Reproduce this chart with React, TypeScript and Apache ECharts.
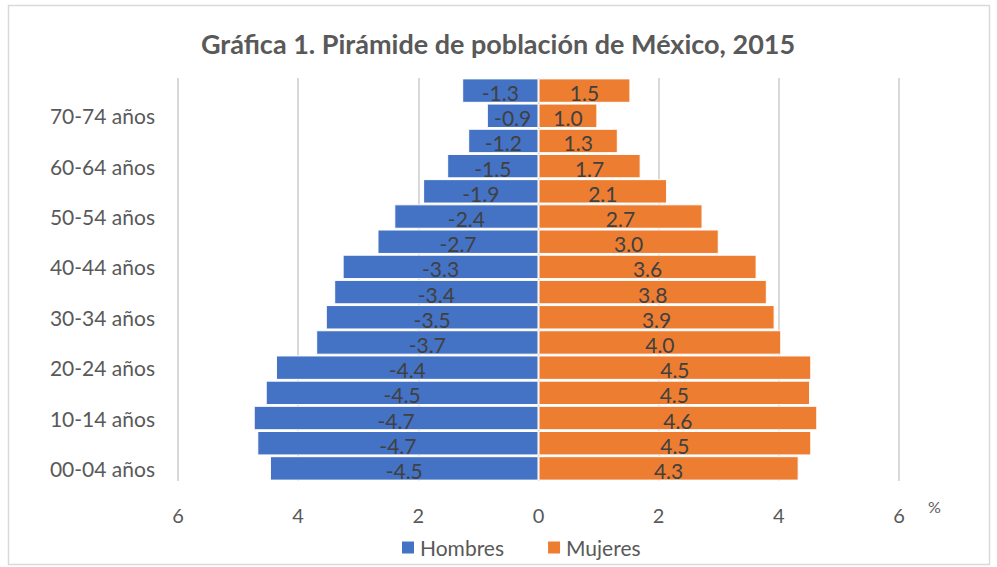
import React, { useEffect, useRef } from "react";
import * as echarts from "echarts";

const categories = [
  "00-04 años", "05-09 años", "10-14 años", "15-19 años", "20-24 años", "25-29 años",
  "30-34 años", "35-39 años", "40-44 años", "45-49 años", "50-54 años", "55-59 años",
  "60-64 años", "65-69 años", "70-74 años", "75 años y más",
];
const hombres = [-4.47, -4.68, -4.74, -4.54, -4.37, -3.7, -3.54, -3.4, -3.26, -2.68, -2.4, -1.92, -1.52, -1.17, -0.86, -1.27];
const mujeres = [4.33, 4.54, 4.64, 4.52, 4.54, 4.04, 3.93, 3.8, 3.63, 3.0, 2.73, 2.14, 1.7, 1.32, 0.98, 1.53];
const xTicks = [-6, -4, -2, 0, 2, 4, 6];

const FONT = "Lato, 'Open Sans', sans-serif";

export default function App() {
  const ref = useRef<HTMLDivElement>(null);
  useEffect(() => {
    const chart = echarts.init(ref.current!, null, { renderer: "svg" });
    const labelStyle = {
      show: true,
      position: "inside" as const,
      color: "#404040",
      fontSize: 21,
      fontFamily: FONT,
      offset: [0, 2],
      formatter: (p: any) => Number(p.value).toFixed(1),
    };
    chart.setOption({
      animation: false,
      backgroundColor: "#fff",
      title: {
        text: "Gráfica 1. Pirámide de población de México, 2015",
        left: 493,
        textAlign: "center",
        top: 25,
        textStyle: { color: "#595959", fontSize: 27, fontWeight: "bold", fontFamily: FONT },
      },
      legend: {
        data: ["Hombres", "Mujeres"],
        left: 395,
        top: 532,
        itemWidth: 14,
        itemHeight: 14,
        itemGap: 42,
        icon: "rect",
        textStyle: { color: "#595959", fontSize: 21, fontFamily: FONT },
      },
      grid: { left: 178, right: 98, top: 78, bottom: 86, containLabel: false },
      xAxis: {
        type: "value",
        min: xTicks[0],
        max: xTicks[xTicks.length - 1],
        interval: 2,
        axisLine: { show: false },
        axisTick: { show: false },
        splitLine: { show: true, lineStyle: { color: "#d9d9d9", width: 2 } },
        axisLabel: {
          color: "#595959",
          fontSize: 20,
          fontFamily: FONT,
          margin: 24,
          formatter: (v: number) => String(Math.abs(v)),
        },
      },
      yAxis: {
        type: "category",
        data: categories,
        axisLine: { show: false },
        axisTick: { show: false },
        axisLabel: { interval: 1, color: "#595959", fontSize: 21, fontFamily: FONT, margin: 23 },
      },
      series: [
        {
          name: "Hombres",
          type: "bar",
          data: hombres,
          barGap: "-100%",
          barCategoryGap: "3%",
          itemStyle: { color: "#4472C4", borderColor: "#fff", borderWidth: 1 },
          label: labelStyle,
          z: 3,
        },
        {
          name: "Mujeres",
          type: "bar",
          data: mujeres,
          barGap: "-100%",
          barCategoryGap: "3%",
          itemStyle: { color: "#ED7D31", borderColor: "#fff", borderWidth: 1 },
          label: labelStyle,
          z: 3,
        },
      ],
      graphic: [
        {
          type: "rect",
          shape: { x: 8.5, y: 5.5, width: 981, height: 559 },
          style: { fill: "none", stroke: "#d9d9d9", lineWidth: 1.5 },
          silent: true,
        },
        {
          type: "text",
          x: 928,
          y: 498,
          style: { text: "%", fill: "#595959", fontSize: 16, fontFamily: FONT },
        },
      ],
    });
    return () => chart.dispose();
  }, []);
  return (
    <div
      ref={ref}
      style={{ position: "absolute", left: 0, top: 0, width: 997, height: 567 }}
    />
  );
}
